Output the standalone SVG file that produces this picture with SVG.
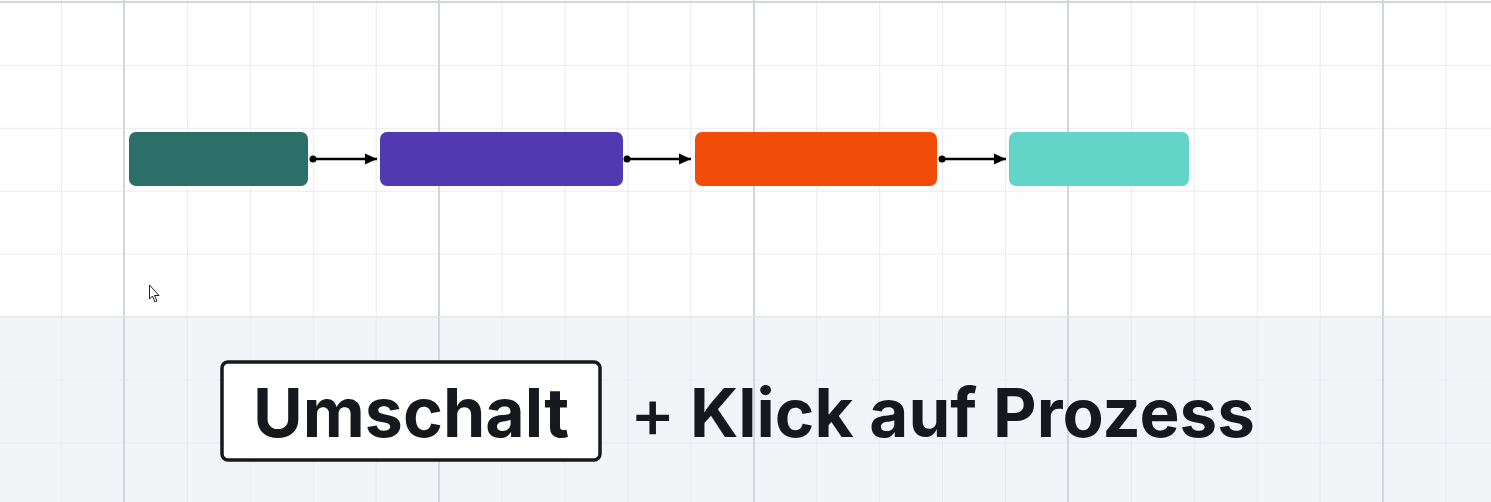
<svg xmlns="http://www.w3.org/2000/svg" width="1491" height="502" viewBox="0 0 1491 502">
  <style>
    .minor { stroke: #e6e7ef; stroke-width: 1.5; }
    .major { stroke: #d4d6df; stroke-width: 2; }
    .node { stroke: none; }
    .conn { stroke: #000; stroke-width: 2.5; fill: none; }
    .key { fill: #ffffff; stroke: #16181d; stroke-width: 3.5; }
    .big { font-family: Inter, "Liberation Sans", sans-serif; font-weight: 700; font-size: 68px; fill: #16181d; }
    .plus { font-family: Inter, "Liberation Sans", sans-serif; font-weight: 500; font-size: 68px; fill: #16181d; }
  </style>
  <defs>
    <marker id="arrow" viewBox="0 0 12 12" refX="12" refY="6" markerWidth="12" markerHeight="12" markerUnits="userSpaceOnUse" orient="auto">
      <path d="M0,0.5 L12,6 L0,11.5 Z" fill="#000"/>
    </marker>
    <pattern id="grid" x="-1.9" y="2" width="62.93" height="62.93" patternUnits="userSpaceOnUse">
      <path d="M0,0 H62.93 M0,0 V62.93" class="minor"/>
    </pattern>
  </defs>
  <rect x="0" y="0" width="1491" height="502" fill="#fefefe"/>
  <rect x="0" y="317" width="1491" height="185" fill="#f3f4f7"/>
  <rect x="0" y="0" width="1491" height="502" fill="url(#grid)"/>
  <g id="major-grid">
    <line x1="124" y1="0" x2="124" y2="502" class="major"/>
    <line x1="439" y1="0" x2="439" y2="502" class="major"/>
    <line x1="754" y1="0" x2="754" y2="502" class="major"/>
    <line x1="1068" y1="0" x2="1068" y2="502" class="major"/>
    <line x1="1383" y1="0" x2="1383" y2="502" class="major"/>
    <line x1="0" y1="2" x2="1491" y2="2" class="major"/>
    <line x1="0" y1="317" x2="1491" y2="317" class="minor"/>
  </g>
  <g id="node-1"><rect class="node" x="129" y="132" width="179" height="54" rx="7" fill="#2a6f68"/></g>
  <g id="node-2"><rect class="node" x="380" y="132" width="243" height="54" rx="7" fill="#513ab1"/></g>
  <g id="node-3"><rect class="node" x="695" y="132" width="242" height="54" rx="7" fill="#f24c09"/></g>
  <g id="node-4"><rect class="node" x="1009" y="132" width="180" height="54" rx="7" fill="#62d4c8"/></g>
  <g id="connectors">
    <circle cx="313" cy="159" r="3.5" fill="#000"/>
    <line x1="313" y1="159" x2="377" y2="159" class="conn" marker-end="url(#arrow)"/>
    <circle cx="627" cy="159" r="3.5" fill="#000"/>
    <line x1="627" y1="159" x2="691" y2="159" class="conn" marker-end="url(#arrow)"/>
    <circle cx="942" cy="159" r="3.5" fill="#000"/>
    <line x1="942" y1="159" x2="1006" y2="159" class="conn" marker-end="url(#arrow)"/>
  </g>
  <g id="cursor">
    <path d="M149.5,285 L149.5,299 L152.5,296 L155,302 L157,301 L154.5,295.5 L159,295.5 Z" fill="#fff" stroke="#222" stroke-width="1" stroke-linejoin="round"/>
  </g>
  <g id="caption">
    <rect class="key" x="222" y="362" width="378" height="98" rx="6"/>
    <text class="big" x="411" y="437" text-anchor="middle">Umschalt</text>
    <text class="plus" x="630" y="437">+</text>
    <text class="big" x="1255" y="437" text-anchor="end" style="font-size:67.3px">Klick auf Prozess</text>
  </g>
</svg>
